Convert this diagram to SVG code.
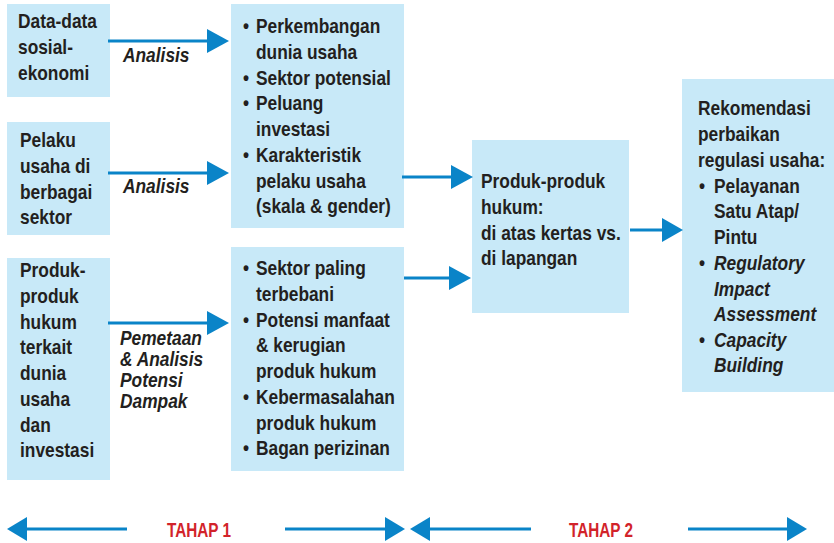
<svg xmlns="http://www.w3.org/2000/svg" width="834" height="543" viewBox="0 0 834 543">
<defs>
<style>
.box{fill:#c8e9f8}
.t{font-family:"Liberation Sans",Arial,sans-serif;font-weight:bold;font-size:19.5px;fill:#231f20}
.i{font-style:italic}
.lab{font-family:"Liberation Sans",Arial,sans-serif;font-weight:bold;font-style:italic;font-size:19.5px;fill:#231f20}
.red{font-family:"Liberation Sans",Arial,sans-serif;font-weight:bold;font-size:19.5px;fill:#d2232a}
.ln{stroke:#0a84c8;stroke-width:3;fill:none}
.hd{fill:#0a84c8}
</style>
</defs>
<rect width="834" height="543" fill="#fff"/>
<g id="n1"><rect class="box" x="7" y="4" width="103" height="93"/>
<text class="t" transform="translate(18 0) scale(0.89 1)"><tspan x="0" y="28">Data-data</tspan><tspan x="0" y="54">sosial-</tspan><tspan x="0" y="80">ekonomi</tspan></text></g>
<g id="n2"><rect class="box" x="7" y="122" width="103" height="113"/>
<text class="t" transform="translate(20 0) scale(0.89 1)"><tspan x="0" y="147">Pelaku</tspan><tspan x="0" y="173">usaha di</tspan><tspan x="0" y="199">berbagai</tspan><tspan x="0" y="224">sektor</tspan></text></g>
<g id="n3"><rect class="box" x="7" y="258" width="103" height="222"/>
<text class="t" transform="translate(20 0) scale(0.89 1)"><tspan x="0" y="277">Produk-</tspan><tspan x="0" y="303">produk</tspan><tspan x="0" y="329">hukum</tspan><tspan x="0" y="354">terkait</tspan><tspan x="0" y="380">dunia</tspan><tspan x="0" y="406">usaha</tspan><tspan x="0" y="432">dan</tspan><tspan x="0" y="457">investasi</tspan></text></g>
<g id="n4"><rect class="box" x="231" y="4" width="173" height="224"/>
<text class="t" transform="translate(243 0) scale(0.89 1)"><tspan x="0" y="33">•</tspan><tspan x="14.6" y="33">Perkembangan</tspan><tspan x="14.6" y="59">dunia usaha</tspan><tspan x="0" y="85">•</tspan><tspan x="14.6" y="85">Sektor potensial</tspan><tspan x="0" y="110">•</tspan><tspan x="14.6" y="110">Peluang</tspan><tspan x="14.6" y="136">investasi</tspan><tspan x="0" y="162">•</tspan><tspan x="14.6" y="162">Karakteristik</tspan><tspan x="14.6" y="188">pelaku usaha</tspan><tspan x="14.6" y="213">(skala &amp; gender)</tspan></text></g>
<g id="n5"><rect class="box" x="231" y="247" width="173" height="224"/>
<text class="t" transform="translate(243 0) scale(0.89 1)"><tspan x="0" y="275">•</tspan><tspan x="14.6" y="275">Sektor paling</tspan><tspan x="14.6" y="301">terbebani</tspan><tspan x="0" y="327">•</tspan><tspan x="14.6" y="327">Potensi manfaat</tspan><tspan x="14.6" y="352">&amp; kerugian</tspan><tspan x="14.6" y="378">produk hukum</tspan><tspan x="0" y="404">•</tspan><tspan x="14.6" y="404">Kebermasalahan</tspan><tspan x="14.6" y="430">produk hukum</tspan><tspan x="0" y="455">•</tspan><tspan x="14.6" y="455">Bagan perizinan</tspan></text></g>
<g id="n6"><rect class="box" x="472" y="140" width="157" height="173"/>
<text class="t" transform="translate(481 0) scale(0.89 1)"><tspan x="0" y="188">Produk-produk</tspan><tspan x="0" y="214">hukum:</tspan><tspan x="0" y="240">di atas kertas vs.</tspan><tspan x="0" y="265">di lapangan</tspan></text></g>
<g id="n7"><rect class="box" x="682" y="79" width="152" height="313"/>
<text class="t" transform="translate(698 0) scale(0.89 1)"><tspan x="0" y="115">Rekomendasi</tspan><tspan x="0" y="141">perbaikan</tspan><tspan x="0" y="167">regulasi usaha:</tspan><tspan x="1.1" y="193">•</tspan><tspan x="18" y="193">Pelayanan</tspan><tspan x="18" y="218">Satu Atap/</tspan><tspan x="18" y="244">Pintu</tspan><tspan x="1.1" y="270">•</tspan><tspan x="18" y="270" class="i">Regulatory</tspan><tspan x="18" y="296" class="i">Impact</tspan><tspan x="18" y="321" class="i">Assessment</tspan><tspan x="1.1" y="347">•</tspan><tspan x="18" y="347" class="i">Capacity</tspan><tspan x="18" y="372" class="i">Building</tspan></text></g>
<g id="connectors">
<line class="ln" x1="108" y1="41" x2="209" y2="41"/><polygon class="hd" points="207,29 229,41 207,53"/>
<line class="ln" x1="108" y1="173" x2="209" y2="173"/><polygon class="hd" points="207,161 229,173 207,185"/>
<line class="ln" x1="108" y1="323" x2="209" y2="323"/><polygon class="hd" points="207,311 229,323 207,335"/>
<line class="ln" x1="402" y1="177" x2="453" y2="177"/><polygon class="hd" points="451,165 473,177 451,189"/>
<line class="ln" x1="404" y1="278" x2="451" y2="278"/><polygon class="hd" points="449,266 471,278 449,290"/>
<line class="ln" x1="630" y1="230" x2="664" y2="230"/><polygon class="hd" points="662,218 683,230 662,242"/>
<text class="lab" transform="translate(123 0) scale(0.89 1)" x="0" y="62">Analisis</text>
<text class="lab" transform="translate(123 0) scale(0.89 1)" x="0" y="193">Analisis</text>
<text class="lab" transform="translate(120 0) scale(0.89 1)"><tspan x="0" y="345">Pemetaan</tspan><tspan x="0" y="366">&amp; Analisis</tspan><tspan x="0" y="387">Potensi</tspan><tspan x="0" y="408">Dampak</tspan></text>
</g>
<g id="tahap">
<line class="ln" x1="25" y1="529" x2="127" y2="529"/><polygon class="hd" points="7,529 27,517 27,541"/>
<line class="ln" x1="285" y1="529" x2="387" y2="529"/><polygon class="hd" points="385,517 405,529 385,541"/>
<text class="red" x="167" y="537" textLength="64" lengthAdjust="spacingAndGlyphs">TAHAP 1</text>
<line class="ln" x1="428" y1="529" x2="531" y2="529"/><polygon class="hd" points="410,529 430,517 430,541"/>
<line class="ln" x1="688" y1="529" x2="789" y2="529"/><polygon class="hd" points="787,517 807,529 787,541"/>
<text class="red" x="569" y="537" textLength="64" lengthAdjust="spacingAndGlyphs">TAHAP 2</text>
</g>
</svg>
